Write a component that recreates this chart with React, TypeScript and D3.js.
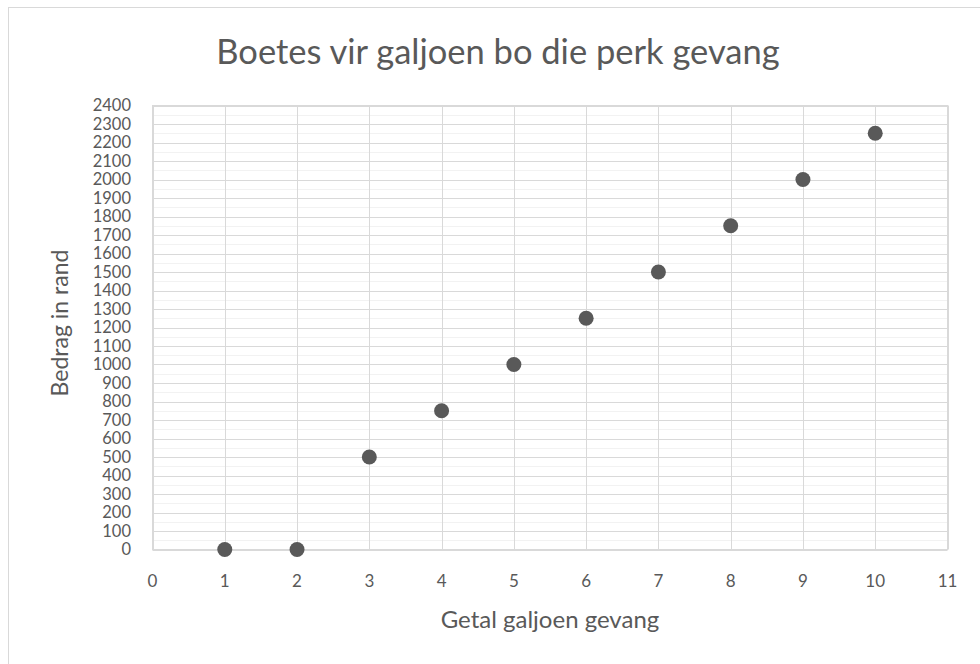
import React from "react";
import * as d3 from "d3";

const title = "Boetes vir galjoen bo die perk gevang";
const xTitle = "Getal galjoen gevang";
const yTitle = "Bedrag in rand";
const xValues = [1, 2, 3, 4, 5, 6, 7, 8, 9, 10];
const yValues = [0, 0, 500, 750, 1000, 1250, 1500, 1750, 2000, 2250];
const xTicks = [0, 1, 2, 3, 4, 5, 6, 7, 8, 9, 10, 11];
const yTicks = d3.range(0, 2401, 100);
const yMinorTicks = d3.range(50, 2400, 100);

const W = 980;
const H = 664;
const left = 152.5;
const right = 947.5;
const top = 105.5;
const bottom = 549.5;
const font = "Lato, 'Open Sans', sans-serif";
const textColor = "#595959";

export default function App() {
  const x = d3.scaleLinear().domain([0, 11]).range([left, right]);
  const y = d3.scaleLinear().domain([0, 2400]).range([bottom, top]);
  return (
    <svg width={W} height={H} style={{ position: "absolute", left: 0, top: 0, background: "#fff" }}>
      <rect x={0} y={0} width={W} height={H} fill="#fff" />
      <rect x={8.5} y={7.5} width={1100} height={800} fill="#fff" stroke="#d9d9d9" strokeWidth={1} />
      <text x={498} y={64} textAnchor="middle" fontFamily={font} fontSize={34.5} fill={textColor}>
        {title}
      </text>
      {yMinorTicks.map((v) => (
        <line key={"m" + v} x1={left} x2={right} y1={Math.round(y(v)) + 0.5} y2={Math.round(y(v)) + 0.5} stroke="#f2f2f2" strokeWidth={1} />
      ))}
      {yTicks.map((v) => (
        <line key={"g" + v} x1={left} x2={right} y1={Math.round(y(v)) + 0.5} y2={Math.round(y(v)) + 0.5} stroke="#d9d9d9" strokeWidth={1} />
      ))}
      {xTicks.map((v) => (
        <line key={"v" + v} x1={Math.round(x(v)) + 0.5} x2={Math.round(x(v)) + 0.5} y1={top} y2={bottom} stroke="#d9d9d9" strokeWidth={1} />
      ))}
      <rect x={left} y={top} width={right - left} height={bottom - top} fill="none" stroke="#d9d9d9" strokeWidth={1} />
      {yTicks.map((v) => (
        <text key={"yl" + v} x={131} y={y(v)} dy="0.35em" textAnchor="end" fontFamily={font} fontSize={16.5} fill={textColor}>
          {v}
        </text>
      ))}
      {xTicks.map((v) => (
        <text key={"xl" + v} x={x(v)} y={581} dy="0.35em" textAnchor="middle" fontFamily={font} fontSize={17} fill={textColor}>
          {v}
        </text>
      ))}
      <text x={x(5.5)} y={628} textAnchor="middle" fontFamily={font} fontSize={24} fill={textColor}>
        {xTitle}
      </text>
      <text transform={`translate(68, 323) rotate(-90)`} textAnchor="middle" fontFamily={font} fontSize={23} fill={textColor}>
        {yTitle}
      </text>
      {xValues.map((v, i) => (
        <circle key={"p" + i} cx={x(v)} cy={y(yValues[i])} r={7.5} fill="#595959" />
      ))}
    </svg>
  );
}
